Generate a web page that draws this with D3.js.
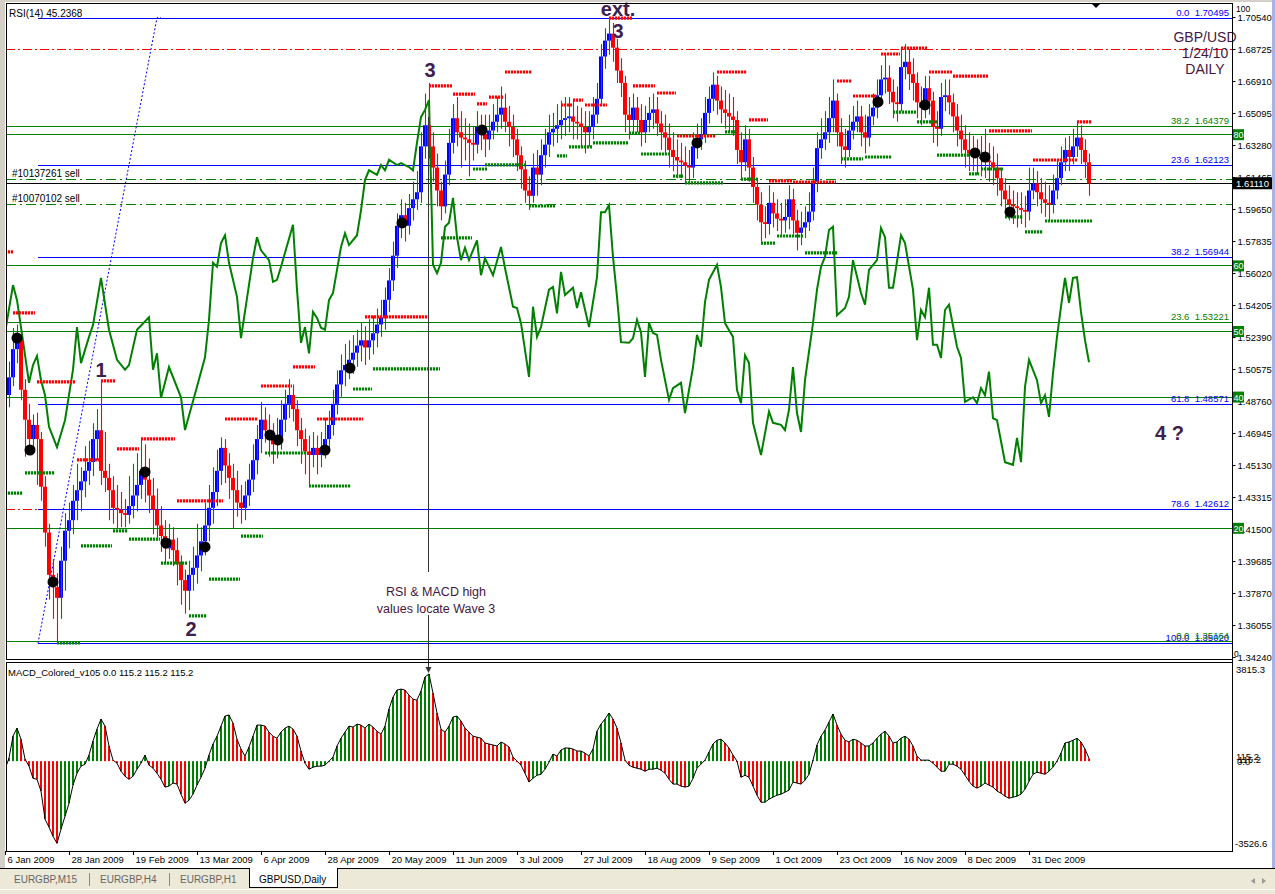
<!DOCTYPE html>
<html><head><meta charset="utf-8">
<script src="https://cdn.jsdelivr.net/npm/d3@7"></script>
<style>
html,body{margin:0;padding:0;background:#fff;overflow:hidden}
svg{display:block}
text{font-family:"Liberation Sans",Arial,sans-serif}
</style></head><body>
<svg id="c" width="1275" height="894"></svg>
<script>
// ---------------- DATA ----------------
const firstOpen = 1.478;
const closes = [
1.491,1.501,1.517,1.522,1.494,1.477,1.466,1.474,1.466,1.439,
1.413,1.389,1.382,1.376,1.397,1.414,1.420,1.431,1.437,1.442,
1.448,1.453,1.466,1.471,1.448,1.444,1.437,1.427,1.426,1.424,
1.423,1.428,1.434,1.440,1.448,1.443,1.434,1.426,1.417,1.411,
1.404,1.409,1.403,1.395,1.386,1.380,1.389,1.393,1.400,1.408,
1.417,1.427,1.436,1.448,1.461,1.451,1.444,1.437,1.430,1.427,
1.434,1.443,1.454,1.466,1.477,1.471,1.467,1.463,1.467,1.477,
1.486,1.491,1.483,1.471,1.466,1.459,1.457,1.461,1.457,1.461,
1.466,1.474,1.486,1.497,1.505,1.508,1.511,1.515,1.519,1.522,
1.518,1.522,1.526,1.531,1.535,1.545,1.556,1.570,1.587,1.593,
1.587,1.597,1.602,1.606,1.632,1.644,1.632,1.620,1.607,1.598,
1.616,1.634,1.648,1.640,1.637,1.636,1.634,1.633,1.643,1.639,
1.636,1.641,1.646,1.650,1.654,1.646,1.643,1.636,1.627,1.619,
1.607,1.604,1.620,1.616,1.627,1.633,1.640,1.642,1.644,1.647,
1.648,1.649,1.646,1.645,1.643,1.640,1.643,1.650,1.659,1.683,
1.692,1.696,1.688,1.675,1.668,1.650,1.647,1.654,1.647,1.640,
1.647,1.651,1.653,1.645,1.640,1.637,1.630,1.626,1.624,1.623,
1.621,1.620,1.632,1.636,1.639,1.651,1.659,1.667,1.658,1.653,
1.651,1.649,1.647,1.630,1.623,1.636,1.620,1.609,1.599,1.589,
1.588,1.600,1.594,1.591,1.590,1.592,1.602,1.590,1.583,1.586,
1.589,1.595,1.612,1.631,1.636,1.640,1.648,1.658,1.640,1.632,
1.630,1.641,1.646,1.649,1.640,1.637,1.649,1.654,1.661,1.670,
1.671,1.663,1.657,1.656,1.677,1.680,1.673,1.668,1.657,1.654,
1.665,1.658,1.643,1.642,1.660,1.661,1.657,1.649,1.641,1.636,
1.630,1.628,1.627,1.626,1.625,1.624,1.623,1.620,1.614,1.607,
1.602,1.599,1.598,1.597,1.596,1.595,1.607,1.611,1.606,1.602,
1.600,1.599,1.607,1.614,1.623,1.630,1.626,1.632,1.637,1.630,
1.623,1.611];
const highs = [
1.503,1.510,1.529,1.531,1.527,1.500,1.486,1.480,1.481,1.470,
1.445,1.418,1.398,1.390,1.405,1.424,1.430,1.440,1.452,1.450,
1.462,1.465,1.475,1.483,1.4995,1.470,1.452,1.445,1.440,1.436,
1.432,1.445,1.452,1.458,1.466,1.463,1.455,1.444,1.438,1.428,
1.420,1.418,1.416,1.410,1.400,1.392,1.397,1.405,1.418,1.416,
1.430,1.440,1.450,1.460,1.467,1.466,1.458,1.452,1.448,1.440,
1.442,1.452,1.463,1.474,1.487,1.484,1.480,1.475,1.478,1.488,
1.494,1.500,1.497,1.488,1.478,1.472,1.468,1.470,1.468,1.470,
1.478,1.482,1.494,1.505,1.514,1.520,1.522,1.525,1.528,1.532,
1.530,1.534,1.536,1.540,1.545,1.552,1.563,1.578,1.594,1.602,
1.600,1.605,1.612,1.618,1.640,1.662,1.668,1.640,1.628,1.612,
1.624,1.642,1.656,1.660,1.652,1.648,1.645,1.643,1.652,1.650,
1.650,1.650,1.656,1.660,1.666,1.662,1.655,1.650,1.642,1.632,
1.624,1.615,1.628,1.630,1.636,1.642,1.650,1.651,1.656,1.658,
1.660,1.660,1.658,1.655,1.654,1.652,1.652,1.660,1.668,1.690,
1.699,1.704,1.702,1.693,1.682,1.672,1.660,1.662,1.660,1.656,
1.655,1.660,1.662,1.660,1.652,1.650,1.645,1.640,1.636,1.634,
1.632,1.630,1.640,1.645,1.648,1.660,1.666,1.674,1.672,1.666,
1.664,1.662,1.660,1.652,1.640,1.644,1.642,1.626,1.614,1.606,
1.598,1.610,1.606,1.602,1.600,1.602,1.610,1.608,1.596,1.595,
1.598,1.606,1.620,1.640,1.648,1.652,1.660,1.670,1.662,1.648,
1.642,1.650,1.655,1.658,1.655,1.650,1.656,1.662,1.670,1.678,
1.684,1.678,1.670,1.666,1.688,1.690,1.687,1.682,1.674,1.666,
1.672,1.672,1.663,1.652,1.668,1.670,1.670,1.662,1.656,1.650,
1.644,1.640,1.638,1.636,1.638,1.642,1.634,1.632,1.628,1.620,
1.614,1.610,1.607,1.606,1.606,1.604,1.620,1.620,1.618,1.614,
1.612,1.610,1.616,1.624,1.632,1.637,1.638,1.642,1.646,1.644,
1.636,1.628];
const lows = [
1.466,1.484,1.496,1.509,1.488,1.456,1.458,1.460,1.440,1.431,
1.405,1.375,1.364,1.350,1.364,1.380,1.404,1.412,1.420,1.425,
1.433,1.440,1.445,1.454,1.440,1.436,1.420,1.418,1.415,1.416,
1.416,1.418,1.421,1.425,1.432,1.430,1.424,1.412,1.410,1.402,
1.396,1.398,1.394,1.383,1.372,1.367,1.369,1.380,1.384,1.391,
1.400,1.408,1.418,1.428,1.440,1.441,1.432,1.415,1.422,1.418,
1.420,1.428,1.436,1.446,1.458,1.464,1.456,1.452,1.455,1.460,
1.470,1.478,1.476,1.462,1.452,1.446,1.440,1.450,1.446,1.450,
1.455,1.460,1.468,1.480,1.490,1.496,1.500,1.503,1.507,1.510,
1.508,1.511,1.514,1.518,1.524,1.528,1.538,1.550,1.563,1.580,
1.578,1.582,1.590,1.596,1.600,1.625,1.625,1.612,1.598,1.590,
1.594,1.610,1.628,1.632,1.620,1.624,1.615,1.624,1.628,1.630,
1.626,1.630,1.636,1.640,1.642,1.640,1.632,1.626,1.618,1.608,
1.600,1.596,1.600,1.604,1.610,1.620,1.626,1.632,1.634,1.636,
1.638,1.640,1.636,1.636,1.632,1.628,1.632,1.636,1.645,1.655,
1.676,1.684,1.680,1.668,1.660,1.640,1.636,1.640,1.640,1.632,
1.634,1.640,1.642,1.638,1.630,1.628,1.620,1.618,1.614,1.614,
1.612,1.612,1.614,1.625,1.630,1.634,1.645,1.652,1.650,1.645,
1.642,1.640,1.638,1.622,1.614,1.618,1.612,1.600,1.590,1.578,
1.580,1.582,1.586,1.584,1.582,1.583,1.585,1.582,1.573,1.576,
1.580,1.584,1.590,1.606,1.625,1.630,1.634,1.640,1.632,1.622,
1.620,1.626,1.636,1.640,1.632,1.628,1.632,1.644,1.648,1.656,
1.662,1.656,1.648,1.646,1.652,1.670,1.664,1.658,1.648,1.644,
1.648,1.650,1.634,1.632,1.638,1.652,1.650,1.640,1.632,1.628,
1.620,1.618,1.618,1.616,1.615,1.614,1.612,1.610,1.604,1.598,
1.594,1.590,1.588,1.586,1.588,1.586,1.590,1.602,1.598,1.594,
1.592,1.590,1.594,1.602,1.610,1.618,1.618,1.622,1.626,1.622,
1.614,1.604];
const macd = [
-320,120,990,1310,870,80,-200,-680,-720,-1190,
-2300,-2620,-2980,-3260,-2700,-2190,-1670,-950,-480,-200,
-120,240,800,1270,1670,1390,600,40,-80,-400,
-600,-720,-600,-320,-80,240,-160,-280,-480,-720,
-1030,-990,-870,-910,-1310,-1670,-1550,-1310,-950,-640,
-280,240,680,990,1390,1790,1830,1510,870,480,
200,560,990,1430,1430,1390,1150,990,910,1150,
1310,1390,1270,990,400,-80,-320,-240,-200,-200,
-160,0,160,600,910,1150,1390,1350,1470,1430,
1310,1470,1350,1190,1070,1390,2070,2540,2820,2860,
2820,2620,2460,2420,2780,3340,3460,2700,1910,1270,
1150,1390,1750,1790,1590,1310,1150,990,950,910,
720,680,640,600,760,680,560,160,0,-160,
-480,-830,-680,-560,-520,-320,-40,280,200,440,
520,520,480,400,400,320,200,480,1190,1470,
1670,1910,1670,1310,720,40,-160,-240,-280,-320,
-400,-320,-320,-280,-360,-480,-720,-910,-910,-990,
-1030,-990,-680,-280,-120,40,360,680,830,870,
720,520,240,0,-640,-560,-640,-990,-1350,-1630,
-1630,-1510,-1430,-1350,-1310,-1230,-1150,-830,-870,-910,
-760,-520,40,640,990,1230,1550,1870,1430,1070,
830,760,870,830,720,600,600,720,910,1070,
1190,990,720,760,910,990,870,600,200,40,
40,40,-80,-240,-400,-400,-120,-120,-200,-320,
-560,-800,-990,-1070,-990,-870,-950,-1030,-1190,-1270,
-1390,-1470,-1430,-1390,-1310,-1110,-800,-520,-440,-480,
-520,-400,-240,0,320,720,760,830,910,760,
480,115.2];
// RSI(14): [bar index, value]
const rsiLine = [[0,49.7],[2,57.0],[3,54.7],[4,50.6],[6,42.1],[7,44.8],[8,46.2],[9,42.5],[10,40.2],[11,35.4],[13,32.3],[15,36.4],[17,44.1],[18,50.6],[19,45.1],[21,49.1],[22,50.9],[24,58.1],[26,50.2],[28,45.6],[30,44.1],[31,44.8],[33,50.2],[36,52.1],[37,44.1],[38,46.6],[39,39.8],[41,44.5],[44,39.9],[45,34.9],[48,41.5],[50,46.0],[51,51.7],[52,60.4],[53,59.8],[54,63.4],[55,64.6],[56,60.4],[58,55.2],[59,48.9],[62,61.1],[63,64.3],[64,62.3],[66,60.8],[67,57.5],[68,57.8],[69,59.8],[72,66.2],[73,56.3],[74,48.2],[75,50.6],[76,46.6],[77,52.9],[78,52.0],[79,50.5],[80,50.2],[81,54.7],[82,55.8],[84,62.8],[85,64.9],[86,63.1],[88,64.6],[89,68.4],[90,73.0],[91,74.5],[93,73.8],[94,75.3],[95,74.5],[96,76.1],[98,75.3],[99,75.6],[100,75.3],[101,75.0],[102,74.5],[103,78.7],[104,82.6],[105,83.7],[106,85.2],[107,60.1],[108,58.8],[109,60.4],[110,65.9],[111,66.5],[112,70.3],[113,64.3],[114,60.8],[115,62.7],[116,60.8],[118,63.8],[119,58.5],[120,61.1],[122,58.5],[124,62.8],[125,59.6],[127,53.7],[128,53.5],[129,51.2],[131,43.0],[132,53.7],[133,49.1],[134,50.6],[136,56.3],[137,56.7],[138,52.7],[139,59.0],[140,55.5],[142,56.6],[143,53.5],[144,55.9],[146,50.6],[148,58.2],[149,68.1],[150,68.1],[151,69.2],[152,61.3],[153,55.2],[154,48.3],[156,48.2],[157,48.9],[158,51.7],[159,49.8],[160,43.0],[161,51.2],[162,49.7],[163,49.4],[164,45.6],[166,39.5],[167,41.3],[169,42.1],[170,37.5],[172,44.5],[173,49.4],[174,47.6],[175,54.4],[176,57.8],[178,60.1],[179,56.7],[180,51.2],[182,49.1],[183,41.0],[184,39.0],[185,46.3],[186,45.1],[187,36.0],[189,31.1],[191,37.7],[192,36.0],[194,35.7],[195,34.9],[196,38.0],[197,44.5],[198,37.5],[199,34.6],[200,42.5],[202,51.2],[203,56.3],[204,59.8],[205,61.3],[206,65.4],[207,65.9],[208,52.4],[210,53.5],[211,55.2],[212,60.8],[214,55.8],[215,54.0],[216,59.3],[218,60.8],[219,65.7],[220,64.3],[221,56.6],[222,56.6],[224,64.6],[225,63.4],[227,56.3],[228,48.6],[229,53.2],[230,52.1],[231,56.6],[232,47.9],[233,47.9],[234,45.9],[235,53.2],[236,54.0],[238,47.6],[239,45.9],[240,39.2],[242,39.9],[243,39.0],[244,41.3],[245,40.2],[246,43.8],[247,36.7],[248,36.4],[250,30.0],[252,29.6],[253,33.7],[254,30.0],[255,41.5],[256,45.6],[258,42.5],[259,39.0],[260,40.2],[261,36.9],[262,43.6],[263,49.1],[264,53.7],[265,58.1],[266,54.3],[267,58.1],[268,58.2],[269,52.9],[270,48.6],[271,45.2368]];
// resistance (red dotted) and support (green dotted): [fromBar, toBar, price]
const resistance = [[0,2,1.5722],[2,7.5,1.5376],[8,17.5,1.4984],[18,23.5,1.4542],[24,27.5,1.4990],[28,33.5,1.4604],[34,42.5,1.4661],[43,54.5,1.4309],[55,63.25,1.4774],[64,71.75,1.4961],[72,77.5,1.5069],[78,89.5,1.4774],[90,105.5,1.5353],[106,111.75,1.6663],[112,117.5,1.6617],[118,120.5,1.6561],[121,124.5,1.6600],[125,131.75,1.6742],[139,141.75,1.6555],[142,144.5,1.6583],[145,150.5,1.6555],[151,156.75,1.7048],[157,162.5,1.6663],[163,167.75,1.6623],[168,177.5,1.6379],[178,185.5,1.6742],[186,190.75,1.6470],[191,196.75,1.6124],[197,207.75,1.6118],[208,211.75,1.6691],[212,218,1.6606],[219,223.75,1.6844],[224,230.5,1.6878],[231,236.75,1.6742],[237,245.75,1.6719],[246,256.75,1.6408],[257,268,1.6243],[268,271.75,1.6459]];
const support = [[0,4.5,1.4354],[5,12.5,1.4468],[13,18.75,1.3504],[19,26.75,1.4054],[27,30.75,1.4139],[31,38.75,1.4093],[39,45.5,1.3957],[46,50.5,1.3657],[51,58.75,1.3866],[59,64.5,1.4110],[65,75.5,1.4581],[76,86.5,1.4394],[87,91.75,1.4944],[92,108.75,1.5058],[109,116.75,1.5801],[117,120.5,1.6192],[120,130,1.6215],[131,137.5,1.5982],[138,140.5,1.6266],[141,146.75,1.6317],[147,155.75,1.6340],[156,158.75,1.6396],[159,166,1.6277],[167,169.5,1.6152],[170,179.5,1.6113],[180,183,1.6402],[184,188.25,1.6135],[189,192.5,1.5772],[193,199.5,1.5812],[200,208.25,1.5716],[209,214.5,1.6249],[215,221.75,1.6260],[222,227.75,1.6515],[228,233,1.6459],[233,241.25,1.6271],[241,243.5,1.6164],[244,249.5,1.6192],[250,254.5,1.5920],[255,259.5,1.5835],[260,271.75,1.5897]];
const pivots = [[3,1.5233],[6.25,1.4598],[12,1.3850],[35,1.4474],[40.25,1.4071],[50,1.4048],[66.25,1.4683],[68.25,1.4655],[80,1.4598],[86.25,1.5063],[99.25,1.5886],[119.25,1.6413],[173,1.6340],[218.25,1.6572],[230,1.6555],[242.5,1.6283],[245,1.6260],[251.25,1.5948]];
const priceTicks = [1.70540,1.68725,1.66910,1.65095,1.63280,1.61465,1.59650,1.57835,1.56020,1.54205,1.52390,1.50575,1.48760,1.46945,1.45130,1.43315,1.41500,1.39685,1.37870,1.36055,1.34240];
const dateTickIdx = [0,16,32,48,64,80,96,112,128,144,160,176,192,208,224,240,256];
const dateTickLabels = ["6 Jan 2009","28 Jan 2009","19 Feb 2009","13 Mar 2009","6 Apr 2009","28 Apr 2009","20 May 2009","11 Jun 2009","3 Jul 2009","27 Jul 2009","18 Aug 2009","9 Sep 2009","1 Oct 2009","23 Oct 2009","16 Nov 2009","8 Dec 2009","31 Dec 2009"];
const fibBlueLevels = ["0.0","23.6","38.2","61.8","78.6","100.0"];
const fibBluePrices = [1.70495,1.62123,1.56944,1.48571,1.42612,1.35020];
const fibGreenLevels = ["38.2","23.6","0.0"];
const fibGreenPrices = [1.64379,1.53221,1.35164];
const rsiLevels = [80,60,50,40,20];
const fibTrend = [[8.25,1.3502],[38,1.7050],[39,1.7050]];
const orderLabels = ["#10137261 sell","#10070102 sell"];
const orderPrices = [1.6135,1.5994];
const redDashPrices = [1.6873,1.42612];
const bidPrice = 1.61110;
const waveText = ["1","2","3","ext.","3","4 ?"];
const waveIdx = [24,46.5,106.25,153.25,153.25,287.5];
const wavePrice = [1.5012,1.3543,1.6714,1.7057,1.6935,1.4655];

// ---------------- LAYOUT ----------------
const L=6,R=1232,T=3,B=659,MT=662,MB=851;
const svg=d3.select('#c');
const x=d3.scaleLinear().domain([0,256]).range([5,1029]);
const yP=d3.scaleLinear().domain([1.34240,1.70540]).range([657,17]);
const yR=d3.scaleLinear().domain([0,100]).range([659,3]);
const yM=d3.scaleLinear().domain([-3526.6,3815.3]).range([850,665]);
const ink='#3b2050', note='#45173f';
const hy=p=>Math.round(yP(p))+.5;

svg.append('rect').attr('width',1275).attr('height',894).attr('fill','#fff');
svg.append('rect').attr('x',0).attr('y',0).attr('width',5).attr('height',869).attr('fill','#d4d0c8');
svg.append('rect').attr('x',0).attr('y',0).attr('width',1275).attr('height',2).attr('fill','#d4d0c8');
svg.append('rect').attr('x',1272).attr('y',0).attr('width',3).attr('height',869).attr('fill','#a9b4e4');

const defs=svg.append('defs');
defs.append('clipPath').attr('id','mc').append('rect').attr('x',L).attr('y',T).attr('width',R-L).attr('height',B-T);
defs.append('clipPath').attr('id','dc').append('rect').attr('x',L).attr('y',MT).attr('width',R-L).attr('height',MB-MT);
const g=svg.append('g').attr('clip-path','url(#mc)');

// horizontal levels
rsiLevels.forEach(v=>g.append('line').attr('x1',L).attr('x2',R).attr('y1',Math.round(yR(v))+.5).attr('y2',Math.round(yR(v))+.5).attr('stroke','#008000'));
fibGreenPrices.forEach(p=>g.append('line').attr('x1',L).attr('x2',R).attr('y1',hy(p)).attr('y2',hy(p)).attr('stroke','#008000'));
redDashPrices.forEach(p=>g.append('line').attr('x1',L).attr('x2',R).attr('y1',hy(p)).attr('y2',hy(p)).attr('stroke','#ff0000').attr('stroke-dasharray','9,3,2,3'));
fibBluePrices.forEach(p=>g.append('line').attr('x1',x(fibTrend[0][0])).attr('x2',R).attr('y1',hy(p)).attr('y2',hy(p)).attr('stroke','#0000ff'));
orderPrices.forEach(p=>g.append('line').attr('x1',L).attr('x2',R).attr('y1',hy(p)).attr('y2',hy(p)).attr('stroke','#008000').attr('stroke-dasharray','10,4,2,4'));
g.append('line').attr('x1',L).attr('x2',R).attr('y1',hy(bidPrice)).attr('y2',hy(bidPrice)).attr('stroke','#000');

// fib trend (dotted)
g.append('path').datum(fibTrend).attr('d',d3.line().x(d=>x(d[0])).y(d=>yP(d[1]))).attr('fill','none').attr('stroke','#0000ff').attr('stroke-dasharray','2,2');

// RSI
g.append('path').datum(rsiLine).attr('d',d3.line().x(d=>x(d[0])).y(d=>yR(d[1]))).attr('fill','none').attr('stroke','#008000').attr('stroke-width',2);

// candles
const opens=closes.map((c,i)=>i===0?firstOpen:closes[i-1]);
const cg=g.append('g');
closes.forEach((c,i)=>{
  const o=opens[i], up=c>=o;
  const y1=yP(Math.max(o,c)), y2=yP(Math.min(o,c));
  cg.append('rect').attr('x',x(i)-2).attr('width',4).attr('y',y1).attr('height',Math.max(1.5,y2-y1)).attr('fill',up?'#0000ff':'#ff0000');
});
closes.forEach((c,i)=>{
  const o=opens[i], up=c>=o;
  cg.append('line').attr('x1',x(i)+.5).attr('x2',x(i)+.5).attr('y1',yP(highs[i])).attr('y2',yP(lows[i])).attr('stroke',up?'#008000':'#ff0000').attr('stroke-width',1.1);
});

// S/R dotted
resistance.forEach(s=>g.append('line').attr('x1',x(s[0])).attr('x2',x(s[1])).attr('y1',yP(s[2])).attr('y2',yP(s[2])).attr('stroke','#ff0000').attr('stroke-width',3.2).attr('stroke-dasharray','2.2,0.8'));
support.forEach(s=>g.append('line').attr('x1',x(s[0])).attr('x2',x(s[1])).attr('y1',yP(s[2])).attr('y2',yP(s[2])).attr('stroke','#008000').attr('stroke-width',3.2).attr('stroke-dasharray','2.2,0.8'));

// pivots
pivots.forEach(p=>g.append('circle').attr('cx',x(p[0])).attr('cy',yP(p[1])).attr('r',5.5).attr('fill','#000'));

// vertical arrow line
const vx=Math.round(x(105.75))+.5;
svg.append('line').attr('x1',vx).attr('x2',vx).attr('y1',yP(1.6487)).attr('y2',572).attr('stroke','#333');
svg.append('line').attr('x1',vx).attr('x2',vx).attr('y1',615).attr('y2',yM(macd[106])-2).attr('stroke','#333');
svg.append('path').attr('d',`M${vx-3},${yM(macd[106])-7}L${vx+3},${yM(macd[106])-7}L${vx},${yM(macd[106])-1}Z`).attr('fill','#333');
svg.append('text').attr('x',436).attr('y',596).attr('text-anchor','middle').attr('font-size',12.5).attr('fill',note).text('RSI & MACD high');
svg.append('text').attr('x',436).attr('y',613).attr('text-anchor','middle').attr('font-size',12.5).attr('fill',note).text('values locate Wave 3');

// wave labels
waveText.forEach((t,i)=>svg.append('text').attr('x',x(waveIdx[i])).attr('y',yP(wavePrice[i])).attr('text-anchor',t==='4 ?'?'start':'middle').attr('font-size',20).attr('font-weight','bold').attr('fill',ink).text(t));

// panel frames
svg.append('rect').attr('x',L+.5).attr('y',T+.5).attr('width',R-L).attr('height',B-T).attr('fill','none').attr('stroke','#000');
svg.append('rect').attr('x',L+.5).attr('y',MT+.5).attr('width',R-L).attr('height',MB-MT).attr('fill','none').attr('stroke','#000');

// texts in main panel
svg.append('text').attr('x',9).attr('y',17).attr('font-size',10).text('RSI(14) 45.2368');
orderLabels.forEach((t,i)=>svg.append('text').attr('x',12).attr('y',Math.round(yP(orderPrices[i]))-2).attr('font-size',10).text(t));
fibBluePrices.forEach((p,i)=>svg.append('text').attr('x',1229).attr('y',Math.round(yP(p))-2).attr('text-anchor','end').attr('font-size',9.5).attr('fill','#0000ff').style('white-space','pre').text(fibBlueLevels[i]+'  '+p.toFixed(5)));
fibGreenPrices.forEach((p,i)=>svg.append('text').attr('x',1229).attr('y',Math.round(yP(p))-2).attr('text-anchor','end').attr('font-size',9.5).attr('fill','#008000').style('white-space','pre').text(fibGreenLevels[i]+'  '+p.toFixed(5)));
['GBP/USD','1/24/10','DAILY'].forEach((t,i)=>svg.append('text').attr('x',1205).attr('y',[42,58,74][i]).attr('text-anchor','middle').attr('font-size',14).attr('fill',note).text(t));
svg.append('path').attr('d','M1091,3L1101,3L1096,8Z').attr('fill','#000');

// price axis
const pa=svg.append('g').attr('transform',`translate(${R+.5},0)`).call(d3.axisRight(yP).tickValues(priceTicks).tickSize(3).tickPadding(2).tickFormat(d3.format('.5f')));
pa.select('.domain').remove();
pa.selectAll('text').attr('font-size',9.5).attr('font-family','Liberation Sans');
svg.append('line').attr('x1',R+.5).attr('x2',R+.5).attr('y1',T).attr('y2',MB).attr('stroke','#000');
svg.append('text').attr('x',1236).attr('y',12).attr('font-size',8.5).text('100');
svg.append('text').attr('x',1234).attr('y',657).attr('font-size',8.5).text('0');
rsiLevels.forEach(v=>{
  svg.append('rect').attr('x',R+1).attr('y',yR(v)-5).attr('width',11).attr('height',11).attr('fill','#008000');
  svg.append('text').attr('x',R+1.5).attr('y',yR(v)+4).attr('font-size',9).attr('fill','#fff').text(v);
});
svg.append('rect').attr('x',R+1).attr('y',yP(bidPrice)-6).attr('width',39).attr('height',12).attr('fill','#000');
svg.append('text').attr('x',R+4).attr('y',yP(bidPrice)+3.5).attr('font-size',9.5).attr('fill','#fff').text(bidPrice.toFixed(5));

// MACD
const mg=svg.append('g').attr('clip-path','url(#dc)');
macd.forEach((v,i)=>{
  const rising = i===0 ? true : v>=macd[i-1];
  const y0=yM(0), y1=yM(v);
  mg.append('rect').attr('x',x(i)-1).attr('width',2).attr('y',Math.min(y0,y1)).attr('height',Math.max(1,Math.abs(y1-y0))).attr('fill',rising?'#008000':'#ff0000');
});
mg.append('path').datum(macd).attr('d',d3.line().x((d,i)=>x(i)).y(d=>yM(d))).attr('fill','none').attr('stroke','#000').attr('stroke-width',1);
svg.append('text').attr('x',8).attr('y',676).attr('font-size',9.5).text('MACD_Colored_v105 0.0 115.2 115.2 115.2');
svg.append('text').attr('x',1236).attr('y',673).attr('font-size',9.5).text('3815.3');
svg.append('text').attr('x',1235).attr('y',847).attr('font-size',9.5).text('-3526.6');
[['115.2',757],['0.0',762],['115.2',760]].forEach((d,i)=>svg.append('text').attr('x',1236+i).attr('y',d[1]+3).attr('font-size',9.5).text(d[0]));

// date axis
const da=svg.append('g').attr('transform',`translate(0,${MB})`).call(d3.axisBottom(x).tickValues(dateTickIdx).tickSize(4).tickPadding(1).tickFormat((d,i)=>dateTickLabels[i]));
da.select('.domain').remove();
da.selectAll('text').attr('text-anchor','start').attr('x',2).attr('font-size',9.5).attr('font-family','Liberation Sans');

// tabs
svg.append('rect').attr('x',0).attr('y',868).attr('width',1275).attr('height',26).attr('fill','#ece9d8');
svg.append('line').attr('x1',0).attr('x2',1275).attr('y1',868.5).attr('y2',868.5).attr('stroke','#000');
svg.append('line').attr('x1',0).attr('x2',1275).attr('y1',889.5).attr('y2',889.5).attr('stroke','#fff');
svg.append('rect').attr('x',249.5).attr('y',868.5).attr('width',88).attr('height',19).attr('fill','#fff').attr('stroke','#000');
svg.append('line').attr('x1',250).attr('x2',337).attr('y1',868.5).attr('y2',868.5).attr('stroke','#fff');
[['EURGBP,M15',14,'#666'],['EURGBP,H4',100,'#666'],['EURGBP,H1',180,'#666'],['GBPUSD,Daily',259,'#000']].forEach(d=>svg.append('text').attr('x',d[1]).attr('y',883).attr('font-size',10).attr('fill',d[2]).text(d[0]));
[89,169].forEach(v=>svg.append('line').attr('x1',v+.5).attr('x2',v+.5).attr('y1',873).attr('y2',886).attr('stroke','#888'));
svg.append('path').attr('d','M1251,881L1255,878L1255,884Z').attr('fill','#999');
svg.append('path').attr('d','M1266,881L1262,878L1262,884Z').attr('fill','#999');
</script>
</body></html>
